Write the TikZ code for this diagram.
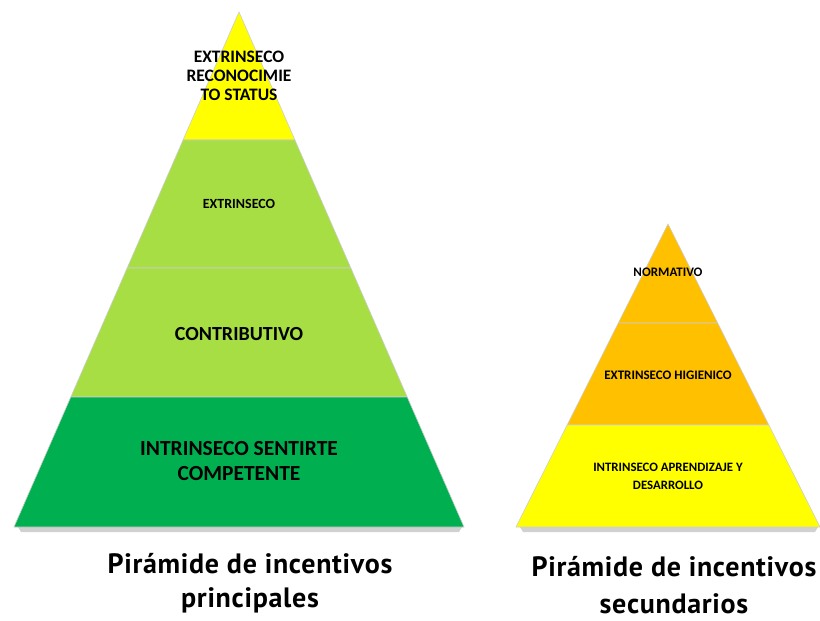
\documentclass[tikz,border=0pt]{standalone}
\usepackage{fontspec}
\setmainfont{Carlito}
\newfontfamily\titlefont{PT Sans}[LetterSpace=2.5]
\usetikzlibrary{calc}

\definecolor{topyellow}{RGB}{255,255,0}
\definecolor{midgreen}{RGB}{166,222,68}
\definecolor{darkgreen}{RGB}{0,176,80}
\definecolor{amber}{RGB}{255,192,0}

\tikzset{
  band/.style={draw=black!20,line width=0.6pt},
  lbl/.style={font=\bfseries,align=center,inner sep=0pt},
  title/.style={align=center,inner sep=0pt,anchor=base}
}

\begin{document}
\begin{tikzpicture}[x=1pt,y=-1pt]
\useasboundingbox (0,0) rectangle (820,621);

% left pyramid
\coordinate (L-top) at (239,12);
\coordinate (L-bl) at (14,527);
\coordinate (L-br) at (464,527);
\fill[black,opacity=0.18] (18,527) -- (462,527) -- (459,532) -- (21,532) -- cycle;
\foreach \a/\b/\c in {0/0.2485/topyellow,0.2485/0.4971/midgreen,0.4971/0.7476/midgreen,0.7476/1/darkgreen}
  \filldraw[band,fill=\c] ($(L-top)!\a!(L-bl)$) -- ($(L-top)!\b!(L-bl)$)
    -- ($(L-top)!\b!(L-br)$) -- ($(L-top)!\a!(L-br)$) -- cycle;

% right pyramid
\coordinate (R-top) at (668,224);
\coordinate (R-bl) at (516,527);
\coordinate (R-br) at (820,527);
\fill[black,opacity=0.18] (520,527) -- (818,527) -- (815,532) -- (523,532) -- cycle;
\foreach \a/\b/\c in {0/0.3267/amber,0.3267/0.6634/amber,0.6634/1/topyellow}
  \filldraw[band,fill=\c] ($(R-top)!\a!(R-bl)$) -- ($(R-top)!\b!(R-bl)$)
    -- ($(R-top)!\b!(R-br)$) -- ($(R-top)!\a!(R-br)$) -- cycle;

% labels
\node[lbl,font=\bfseries\fontsize{17.5}{19}\selectfont] (status) at (239,76) {EXTRINSECO\\RECONOCIMIE\\TO STATUS};
\node[lbl,font=\bfseries\fontsize{14}{16}\selectfont] (extr) at (239,204) {EXTRINSECO};
\node[lbl,font=\bfseries\fontsize{20}{22}\selectfont] (contrib) at (239,334) {CONTRIBUTIVO};
\node[lbl,font=\bfseries\fontsize{21.5}{25}\selectfont] (intr) at (239,461) {INTRINSECO SENTIRTE\\COMPETENTE};

\node[lbl,font=\bfseries\fontsize{13}{15}\selectfont] (norm) at (668,272) {NORMATIVO};
\node[lbl,font=\bfseries\fontsize{13}{15}\selectfont] (higien) at (668,375) {EXTRINSECO HIGIENICO};
\node[lbl,font=\bfseries\fontsize{12.8}{18}\selectfont] (aprend) at (668,476) {INTRINSECO APRENDIZAJE Y\\DESARROLLO};

% titles
\node[title,font=\titlefont\bfseries\fontsize{28}{34}\selectfont] (tprin) at (250,607) {Pirámide de incentivos\\principales};
\node[title,font=\titlefont\bfseries\fontsize{28}{37}\selectfont] (tsec) at (674,613) {Pirámide de incentivos\\secundarios};
\end{tikzpicture}
\end{document}
